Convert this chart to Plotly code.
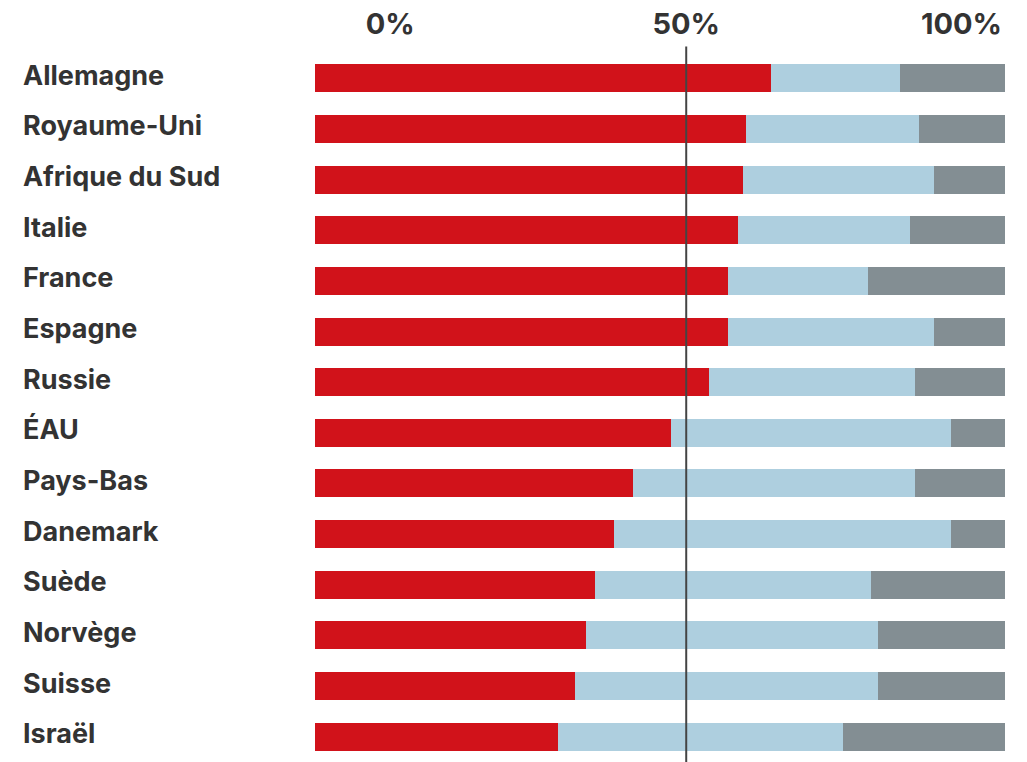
import plotly.graph_objects as go

countries = ["Allemagne", "Royaume-Uni", "Afrique du Sud", "Italie", "France", "Espagne",
             "Russie", "ÉAU", "Pays-Bas", "Danemark", "Suède", "Norvège", "Suisse", "Israël"]
red_vals = [66.1, 62.5, 62.0, 61.3, 59.9, 59.9, 57.1, 51.6, 46.1, 43.3, 40.6, 39.3, 37.7, 35.2]
blue_vals = [18.7, 25.0, 27.7, 24.9, 20.2, 29.8, 29.9, 40.6, 40.9, 48.9, 40.0, 42.3, 43.9, 41.3]
grey_vals = [15.2, 12.5, 10.3, 13.8, 19.9, 10.3, 13.0, 7.8, 13.0, 7.8, 19.4, 18.4, 18.4, 23.5]

tick_positions = [10.9, 53.8, 93.7]
tick_labels = ["0%", "50%", "100%"]
ref_line = 53.8

FONT = "Inter"
TXT = "#333333"

fig = go.Figure()
for vals, col in [(red_vals, "#D1121A"), (blue_vals, "#AECFDF"), (grey_vals, "#838E93")]:
    fig.add_trace(go.Bar(y=countries, x=vals, orientation="h",
                         marker=dict(color=col, line=dict(width=0)),
                         hoverinfo="skip", showlegend=False))

fig.add_shape(type="line", xref="x", yref="paper", x0=ref_line, x1=ref_line,
              y0=0, y1=1.009, line=dict(color="#444444", width=2))

for c in countries:
    fig.add_annotation(x=-0.4261, xref="paper", y=c, yref="y", text="<b>%s</b>" % c,
                       showarrow=False, xanchor="left", yanchor="middle", yshift=3,
                       font=dict(family=FONT, size=27, color=TXT))

fig.update_layout(
    width=1027, height=762,
    margin=dict(l=315, r=22, t=53, b=0),
    barmode="stack", bargap=0.447,
    plot_bgcolor="white", paper_bgcolor="white",
    xaxis=dict(range=[0, 100], side="top", tickvals=tick_positions,
               ticktext=["<b>%s</b>" % t for t in tick_labels],
               showgrid=False, zeroline=False, showline=False, ticks="",
               ticklabelstandoff=12,
               tickfont=dict(family=FONT, size=29, color=TXT)),
    yaxis=dict(autorange="reversed", showticklabels=False, showgrid=False,
               zeroline=False, showline=False, ticks=""),
)

fig.write_html("out.html")
